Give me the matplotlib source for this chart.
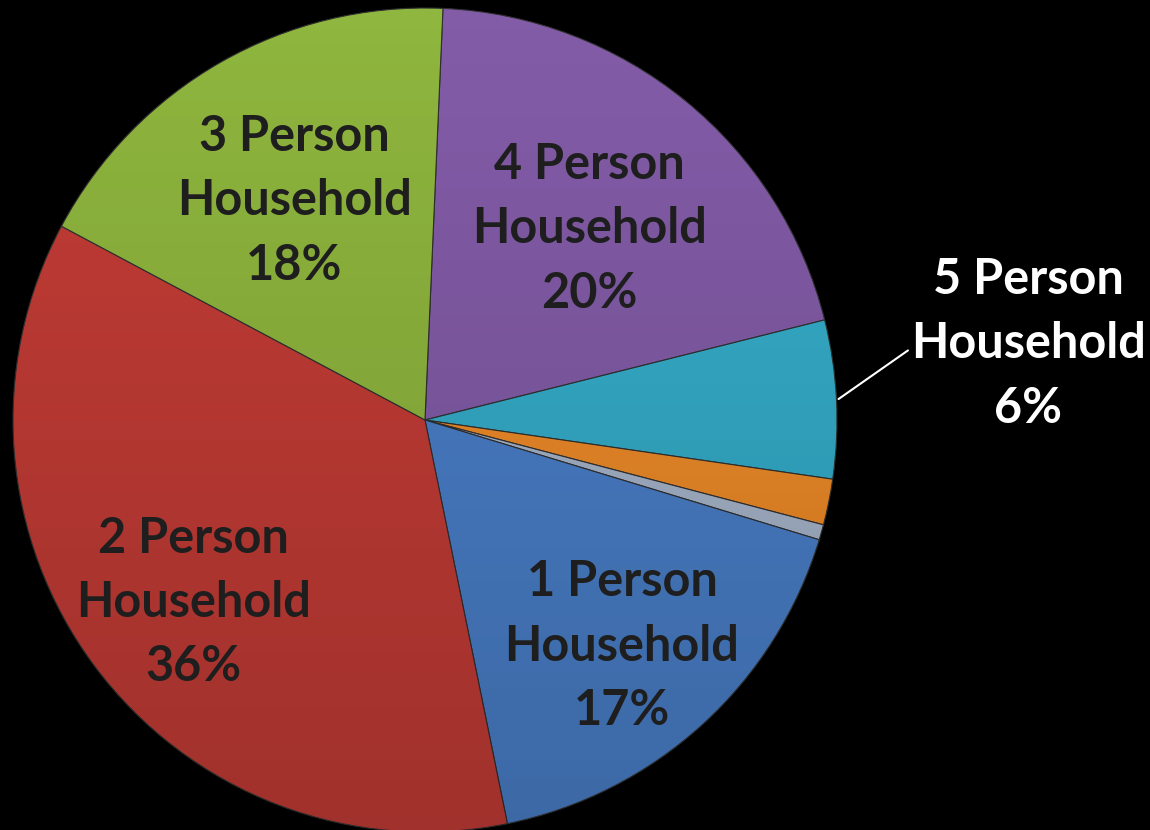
"""Household size pie chart on a black background."""

import numpy as np
import matplotlib

matplotlib.use("Agg")
import matplotlib.pyplot as plt
from matplotlib.patches import Circle

# -- Data (clockwise from the top) ---------------------------------------------
categories = [
    "4 Person\nHousehold",
    "5 Person\nHousehold",
    "6 Person\nHousehold",
    "7+ Person\nHousehold",
    "1 Person\nHousehold",
    "2 Person\nHousehold",
    "3 Person\nHousehold",
]
shares = [20.4, 6.2, 1.8, 0.6, 17.1, 36.0, 17.9]
pct_labels = ["20%", "6%", "", "", "17%", "36%", "18%"]
colors = ["#835CA8", "#35AECB", "#F08C28", "#A8B6CC", "#4A80CA", "#C43C36", "#8FB63E"]

# label placement: inside (radial fraction) or outside (None)
inside_r = [0.63, None, None, None, 0.71, 0.70, 0.64]

fig = plt.figure(figsize=(11.5, 8.3), dpi=100, facecolor="black")
ax = fig.add_axes([0, 0, 1, 1])
ax.set_facecolor("black")

wedges, _ = ax.pie(
    shares,
    colors=colors,
    startangle=87.5,
    counterclock=False,
    radius=1.0,
    wedgeprops=dict(edgecolor="#303030", linewidth=0.8),
)

# soft shading: a bit darker toward the bottom of the pie
shade = np.zeros((200, 2, 4))
shade[..., 3] = np.linspace(0.0, 0.18, 200)[:, None]
im = ax.imshow(shade, extent=(-1, 1, -1, 1), origin="upper", zorder=3,
               interpolation="bilinear", aspect="auto")
im.set_clip_path(Circle((0, 0), 1.0, transform=ax.transData))

font = dict(family=["Lato", "DejaVu Sans"], fontweight="bold", fontsize=35)
dy = -0.024  # nudge inside labels down a touch

for w, name, pct, r in zip(wedges, categories, pct_labels, inside_r):
    if not pct:
        continue
    mid = np.deg2rad((w.theta1 + w.theta2) / 2)
    x, y = np.cos(mid), np.sin(mid)
    text = f"{name}\n{pct}"
    if r is not None:
        ax.text(r * x, r * y + dy, text, ha="center", va="center", color="#1E1E1E",
                linespacing=1.52, zorder=5, **font)
    else:
        ax.annotate(
            text, xy=(1.005 * x, 1.005 * y), xytext=(1.464, 0.185),
            ha="center", va="center", color="white", linespacing=1.52,
            arrowprops=dict(arrowstyle="-", color="white", lw=1.5,
                            connectionstyle="angle,angleA=0,angleB=35,rad=0",
                            shrinkA=0, shrinkB=0, relpos=(0.0, 0.5)),
            zorder=5, **font,
        )

ax.set_xlim(-425 / 412, (1150 - 425) / 412)
ax.set_ylim(-410 / 412, 420 / 412)
ax.set_aspect("auto")
ax.axis("off")

fig.savefig("out.png", dpi=100, facecolor="black")
